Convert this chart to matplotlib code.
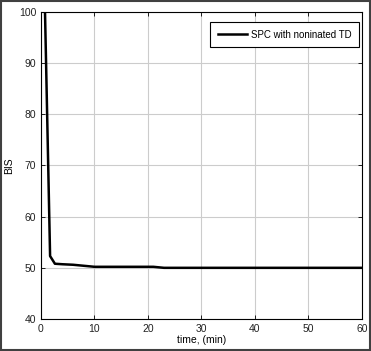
import numpy as np
import matplotlib.pyplot as plt
from matplotlib.patches import Rectangle

plt.rcParams['font.family'] = ['Liberation Sans', 'DejaVu Sans']

# data
t = [0.75, 1.7, 2.6, 4.0, 6.0, 8.0, 10.0, 15.0, 21.0, 23.0, 30.0, 40.0, 50.0, 60.0]
bis = [100.0, 52.3, 50.8, 50.7, 50.6, 50.4, 50.2, 50.2, 50.2, 50.0, 50.0, 50.0, 50.0, 50.0]
xticks = [0, 10, 20, 30, 40, 50, 60]
yticks = [40, 50, 60, 70, 80, 90, 100]

fig = plt.figure(figsize=(3.71, 3.51), dpi=100)
ax = fig.add_axes([0.1105, 0.0912, 0.8652, 0.8746])

ax.plot(t, bis, color='black', lw=1.8, label='SPC with noninated TD')
ax.set_xlim(0, 60)
ax.set_ylim(40, 100)
ax.set_xticks(xticks)
ax.set_yticks(yticks)
ax.grid(True, color='#cccccc', lw=0.8)
ax.tick_params(direction='in', length=3, labelsize=7.5, top=True, right=True, width=0.6,
               labelcolor='#222222')
for s in ax.spines.values():
    s.set_linewidth(0.8)
ax.set_xlabel('time, (min)', fontsize=7.5, labelpad=1)
ax.set_ylabel('BIS', fontsize=7.5)
ax.yaxis.set_label_coords(-0.085, 0.5)

leg = ax.legend(loc='upper right', bbox_to_anchor=(0.991, 0.968), fontsize=7.0,
                fancybox=False, edgecolor='black', framealpha=1,
                handlelength=3.0, handletextpad=0.4, borderaxespad=0, borderpad=0.8)
leg.get_frame().set_linewidth(0.8)

# outer frame around the whole figure
fig.patches.append(Rectangle((0.003, 0.003), 0.994, 0.994, transform=fig.transFigure,
                             fill=False, edgecolor='#404040', lw=1.5))

fig.savefig('out.png', dpi=100)
